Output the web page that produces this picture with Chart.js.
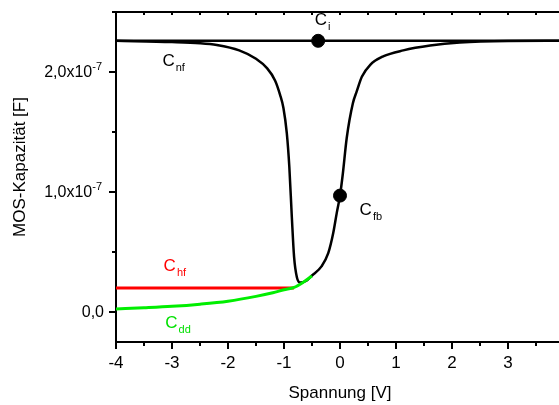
<!DOCTYPE html>
<html>
<head>
<meta charset="utf-8">
<script src="https://cdn.jsdelivr.net/npm/chart.js@4"></script>
<style>
  html, body { margin: 0; padding: 0; background: #fff; overflow: hidden; }
  #wrap { width: 559px; height: 405px; overflow: hidden; }
</style>
</head>
<body>
<div id="wrap"><canvas id="mos" width="580" height="405"></canvas></div>
<script>
// ===== DATA (capacitance in units of 1e-7 F, voltage in V) =====
const ciVolt = [-4, 4];
const ciCap  = [2.26, 2.26];

const nfVolt = [-4, -3, -2.5, -2.2, -1.8, -1.5, -1.3, -1.16, -1.07, -1.01, -0.95, -0.905, -0.86, -0.82, -0.77, -0.71,
                -0.6, -0.51, -0.33, -0.21, -0.12, -0.06, 0, 0.05, 0.12, 0.23, 0.3, 0.39, 0.54, 0.77, 1.13, 1.61, 2.14, 3, 4];
const nfCap  = [2.26, 2.25, 2.24, 2.225, 2.18, 2.11, 2.03, 1.93, 1.81, 1.7, 1.49, 1.21, 0.79, 0.46, 0.29, 0.245,
                0.26, 0.3, 0.38, 0.49, 0.66, 0.82, 0.97, 1.15, 1.45, 1.74, 1.84, 1.96, 2.06, 2.13, 2.18, 2.22, 2.245, 2.258, 2.26];

const hfVolt = [-4, -0.82];
const hfCap  = [0.2, 0.2];

const ddVolt = [-4, -3.5, -3, -2.5, -2, -1.5, -1.2, -1, -0.82, -0.65, -0.5];
const ddCap  = [0.025, 0.035, 0.047, 0.065, 0.09, 0.13, 0.16, 0.185, 0.205, 0.25, 0.3];

const dotVolt = [-0.39, 0];
const dotCap  = [2.26, 0.97];

const xTicks = [-4, -3, -2, -1, 0, 1, 2, 3, 4];
const yTicks = [0, 1, 2];
const yTickText = ["0,0", "1,0x10", "2,0x10"];

// curve labels: main letter, subscript, colour, anchor (data coords)
const curveLabels = [
  { main: "C", sub: "nf", color: "#000", x: -3.17, y: 2.05 },
  { main: "C", sub: "i",  color: "#000", x: -0.45, y: 2.39 },
  { main: "C", sub: "fb", color: "#000", x: 0.35,  y: 0.81 },
  { main: "C", sub: "hf", color: "#ff0000", x: -3.15, y: 0.345 },
  { main: "C", sub: "dd", color: "#00e000", x: -3.12, y: -0.13 }
];

const FONT = "'Liberation Sans', Arial, sans-serif";

function pts(xs, ys){
  return xs.map((v, i) => ({ x: v, y: ys[i] }));
}

const overlay = {
  id: 'overlay',
  afterDraw(chart){
    const ctx = chart.ctx;
    const xs = chart.scales.x, ys = chart.scales.y;
    const a = chart.chartArea;
    ctx.save();
    ctx.strokeStyle = "#000";
    ctx.lineWidth = 2;

    // bottom + top tick marks
    for(let v = -4; v <= 4.001; v += 0.5){
      const px = Math.round(xs.getPixelForValue(v));
      const major = Math.abs(v - Math.round(v)) < 1e-6;
      ctx.beginPath();
      ctx.moveTo(px, a.bottom);
      ctx.lineTo(px, a.bottom + (major ? 7 : 4));
      ctx.moveTo(px, a.top);
      ctx.lineTo(px, a.top + 3);
      ctx.stroke();
    }
    // left tick marks
    for(let v = 0; v <= 2.5; v += 0.5){
      const py = Math.round(ys.getPixelForValue(v));
      const major = Math.abs(v - Math.round(v)) < 1e-6;
      ctx.beginPath();
      ctx.moveTo(a.left, py);
      ctx.lineTo(a.left - (major ? 7 : 4), py);
      ctx.stroke();
    }

    // y tick labels with superscript
    ctx.fillStyle = "#000";
    ctx.textBaseline = "middle";
    yTicks.forEach((v, i) => {
      const py = ys.getPixelForValue(v);
      const txt = yTickText[i];
      if(v === 0){
        ctx.font = "16px " + FONT;
        ctx.textAlign = "right";
        ctx.fillText(txt, 104, py + 1);
      } else {
        ctx.font = "11px " + FONT;
        const sw = ctx.measureText("-7").width;
        ctx.textAlign = "left";
        ctx.fillText("-7", 102 - sw, py - 5);
        ctx.font = "16px " + FONT;
        ctx.textAlign = "right";
        ctx.fillText(txt, 102 - sw, py + 1);
      }
    });

    // curve labels
    curveLabels.forEach(l => {
      const px = xs.getPixelForValue(l.x);
      const py = ys.getPixelForValue(l.y);
      ctx.fillStyle = l.color;
      ctx.textAlign = "left";
      ctx.textBaseline = "alphabetic";
      ctx.font = "17px " + FONT;
      ctx.fillText(l.main, px, py);
      const w = ctx.measureText(l.main).width;
      ctx.font = "11px " + FONT;
      ctx.fillText(l.sub, px + w + 1, py + 5);
    });

    // axis titles
    ctx.fillStyle = "#000";
    ctx.font = "17px " + FONT;
    ctx.textAlign = "center";
    ctx.textBaseline = "middle";
    ctx.fillText("Spannung [V]", (a.left + a.right) / 2, 393);
    ctx.translate(20, 167);
    ctx.rotate(-Math.PI / 2);
    ctx.fillText("MOS-Kapazität [F]", 0, 0);
    ctx.restore();
  }
};

new Chart(document.getElementById("mos"), {
  type: 'line',
  data: {
    datasets: [
      { data: pts(dotVolt, dotCap), type: 'scatter', showLine: false, pointRadius: 6.5,
        pointBackgroundColor: '#000', pointBorderColor: '#000', order: 0 },
      { data: pts(ddVolt, ddCap), borderColor: '#00ee00', borderWidth: 3, pointRadius: 0,
        cubicInterpolationMode: 'monotone', order: 1 },
      { data: pts(hfVolt, hfCap), borderColor: '#ff0000', borderWidth: 3, pointRadius: 0, order: 2 },
      { data: pts(nfVolt, nfCap), borderColor: '#000', borderWidth: 2.5, pointRadius: 0,
        cubicInterpolationMode: 'monotone', order: 3 },
      { data: pts(ciVolt, ciCap), borderColor: '#000', borderWidth: 2.5, pointRadius: 0, order: 4 }
    ]
  },
  options: {
    responsive: false,
    animation: false,
    layout: { padding: { top: 12, right: 16, left: 0, bottom: 0 } },
    plugins: { legend: { display: false }, tooltip: { enabled: false } },
    scales: {
      x: {
        type: 'linear', position: 'bottom', min: -4, max: 4,
        afterBuildTicks: s => { s.ticks = xTicks.map(v => ({ value: v })); },
        afterFit: s => { s.height = 63; },
        grid: { display: false, drawTicks: false },
        border: { display: true, color: '#000', width: 2 },
        ticks: { color: '#000', font: { family: FONT, size: 17 }, padding: 11, maxRotation: 0,
                 autoSkip: false, callback: v => String(v) }
      },
      xTop: {
        type: 'linear', position: 'top', min: -4, max: 4,
        afterFit: s => { s.height = 0; },
        grid: { display: false, drawTicks: false },
        border: { display: true, color: '#000', width: 2 },
        ticks: { display: false }
      },
      y: {
        type: 'linear', position: 'left', min: -0.25, max: 2.5,
        afterFit: s => { s.width = 116; },
        grid: { display: false, drawTicks: false },
        border: { display: true, color: '#000', width: 2 },
        ticks: { display: false }
      }
    }
  },
  plugins: [overlay]
});
</script>
</body>
</html>
